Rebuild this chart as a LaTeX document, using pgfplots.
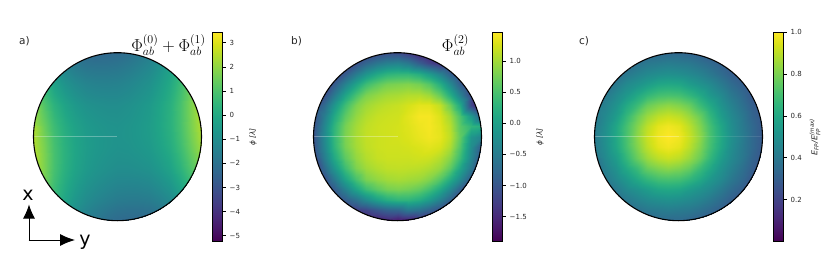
\documentclass[border=0pt]{standalone}
\usepackage{pgfplots}
\pgfplotsset{compat=1.18}
\usepackage{fontspec}
\setmainfont{DejaVu Sans}
\usetikzlibrary{arrows.meta}
\definecolor{tk}{RGB}{38,38,38}
\newcommand{\subfs}{\fontsize{5.6}{5.6}\selectfont}
\pgfplotsset{
  fieldax/.style={hide axis, scale only axis, width=168pt, height=168pt, xmin=0, xmax=16, ymin=0, ymax=16, enlargelimits=false, colormap/viridis, clip=false},
  fieldplot/.style={surf, shader=interp, mesh/cols=17, mesh/check=false, point meta=explicit},
  cbax/.style={scale only axis, axis on top, width=10.4pt, height=209pt, xmin=0, xmax=1, xtick=\empty, ytick pos=right, tick align=outside, colormap/viridis, enlargelimits=false, axis line style={black, line width=0.8pt}, major tick length=3pt, every tick/.style={black, line width=0.5pt}, yticklabel style={font=\fontsize{7}{8}\selectfont, text=tk, /pgf/number format/assume math mode=true, xshift=0.5pt}},
  cbplot/.style={surf, shader=interp, mesh/cols=2, point meta=y},
}
\begin{document}
\begin{tikzpicture}[x=1pt,y=1pt]
\path[use as bounding box] (0,0) rectangle (831,271);
% panel a
\begin{scope}
\clip (117.5,134.3) circle (84);
\begin{axis}[fieldax, at={(33.5pt,50.3pt)}, anchor=south west, point meta min=-5.23, point meta max=3.43]
\addplot[fieldplot] table[row sep=\\, header=false, x expr={mod(\coordindex,17)}, y expr={16-floor(\coordindex/17)}, meta index=0]{
-.15\\-.7\\-1.4\\-1.85\\-2.15\\-2.3\\-2.35\\-2.3\\-2.25\\-2.1\\-1.85\\-1.6\\-1.15\\-.65\\.1\\1.0\\1.85\\
.28\\-.32\\-1.01\\-1.5\\-1.79\\-1.98\\-2.02\\-2.01\\-1.95\\-1.79\\-1.58\\-1.32\\-.91\\-.4\\.3\\1.22\\2.02\\
.7\\.09\\-.61\\-1.12\\-1.43\\-1.63\\-1.69\\-1.69\\-1.65\\-1.51\\-1.31\\-1.07\\-.68\\-.18\\.51\\1.41\\2.2\\
1.08\\.45\\-.27\\-.79\\-1.11\\-1.33\\-1.41\\-1.43\\-1.4\\-1.27\\-1.09\\-.87\\-.49\\-.01\\.67\\1.55\\2.32\\
1.4\\.76\\.02\\-.51\\-.85\\-1.09\\-1.18\\-1.21\\-1.2\\-1.09\\-.92\\-.71\\-.35\\.11\\.78\\1.64\\2.4\\
1.73\\1.07\\.32\\-.23\\-.59\\-.84\\-.94\\-1\\-1\\-.9\\-.76\\-.56\\-.21\\.23\\.88\\1.73\\2.48\\
1.95\\1.28\\.51\\-.06\\-.43\\-.69\\-.81\\-.88\\-.9\\-.82\\-.69\\-.51\\-.17\\.26\\.89\\1.72\\2.45\\
2.15\\1.47\\.69\\.1\\-.28\\-.57\\-.7\\-.79\\-.82\\-.75\\-.64\\-.47\\-.16\\.26\\.87\\1.69\\2.4\\
2.3\\1.6\\.8\\.2\\-.2\\-.5\\-.65\\-.75\\-.8\\-.75\\-.65\\-.5\\-.2\\.2\\.8\\1.6\\2.3\\
2.4\\1.69\\.87\\.26\\-.16\\-.47\\-.64\\-.75\\-.82\\-.79\\-.7\\-.57\\-.28\\.1\\.69\\1.47\\2.15\\
2.45\\1.72\\.89\\.26\\-.17\\-.51\\-.69\\-.82\\-.9\\-.88\\-.81\\-.69\\-.43\\-.06\\.51\\1.28\\1.95\\
2.48\\1.73\\.88\\.23\\-.21\\-.56\\-.76\\-.9\\-1\\-1\\-.94\\-.84\\-.59\\-.23\\.32\\1.07\\1.73\\
2.4\\1.64\\.78\\.11\\-.35\\-.71\\-.92\\-1.09\\-1.2\\-1.21\\-1.18\\-1.09\\-.85\\-.51\\.02\\.76\\1.4\\
2.32\\1.55\\.67\\-.01\\-.49\\-.87\\-1.09\\-1.27\\-1.4\\-1.43\\-1.41\\-1.33\\-1.11\\-.79\\-.27\\.45\\1.08\\
2.2\\1.41\\.51\\-.18\\-.68\\-1.07\\-1.31\\-1.51\\-1.65\\-1.69\\-1.69\\-1.63\\-1.43\\-1.12\\-.61\\.09\\.7\\
2.02\\1.22\\.3\\-.4\\-.91\\-1.32\\-1.58\\-1.79\\-1.95\\-2.01\\-2.02\\-1.98\\-1.79\\-1.5\\-1.01\\-.32\\.28\\
1.85\\1.0\\.1\\-.65\\-1.15\\-1.6\\-1.85\\-2.1\\-2.25\\-2.3\\-2.35\\-2.3\\-2.15\\-1.85\\-1.4\\-.7\\-.15\\
};
\addplot[white, opacity=0.3, line width=0.6pt] coordinates {(0,8)(8,8)};
\end{axis}
\end{scope}
\draw[black, line width=1.1pt] (117.5,134.3) circle (84);
\begin{axis}[cbax, at={(212.3pt,29.7pt)}, anchor=south west, ymin=-5.23, ymax=3.43, point meta min=-5.23, point meta max=3.43, ytick={-5,-4,-3,-2,-1,0,1,2,3}, yticklabels={−5,−4,−3,−2,−1,0,1,2,3}]
\addplot[cbplot] coordinates {(0,-5.23)(1,-5.23)

(0,3.43)(1,3.43)};
\end{axis}
% panel b
\begin{scope}
\clip (397.5,134.3) circle (84);
\begin{axis}[fieldax, at={(313.5pt,50.3pt)}, anchor=south west, point meta min=-1.895, point meta max=1.46]
\addplot[fieldplot] table[row sep=\\, header=false, x expr={mod(\coordindex,17)}, y expr={16-floor(\coordindex/17)}, meta index=0]{
-1.6\\-1.6\\-1.6\\-1.51\\-1.42\\-1.23\\-1.15\\-1.07\\-1.1\\-1.3\\-1.6\\-1.7\\-1.75\\-1.7\\-1.6\\-1.6\\-1.6\\
-1.6\\-1.58\\-1.48\\-1.29\\-1.09\\-.8\\-.58\\-.45\\-.4\\-.55\\-.9\\-1.2\\-1.45\\-1.5\\-1.55\\-1.6\\-1.6\\
-1.6\\-1.48\\-1.25\\-.93\\-.5\\-.15\\.12\\.28\\.33\\.33\\.2\\-.05\\-.4\\-.85\\-1.25\\-1.5\\-1.7\\
-1.51\\-1.29\\-.93\\-.42\\.05\\.41\\.62\\.76\\.8\\.83\\.76\\.58\\.2\\-.3\\-.9\\-1.4\\-1.8\\
-1.42\\-1.09\\-.54\\.05\\.49\\.8\\.92\\1.0\\1.03\\1.08\\1.08\\.98\\.68\\.2\\-.42\\-1.2\\-1.85\\
-1.23\\-.75\\-.15\\.41\\.8\\.98\\1.08\\1.14\\1.18\\1.25\\1.33\\1.32\\1.15\\.73\\.12\\-1.2\\-1.85\\
-1.12\\-.5\\.12\\.62\\.92\\1.08\\1.17\\1.2\\1.22\\1.32\\1.42\\1.42\\1.28\\1.0\\.5\\-.1\\-.9\\
-1.03\\-.37\\.28\\.76\\1.0\\1.14\\1.2\\1.22\\1.24\\1.3\\1.38\\1.42\\1.32\\1.1\\.6\\.3\\.2\\
-1.0\\-.32\\.33\\.8\\1.03\\1.16\\1.2\\1.22\\1.24\\1.28\\1.35\\1.4\\1.34\\1.14\\.65\\-.15\\-.4\\
-1.03\\-.37\\.28\\.76\\1.0\\1.14\\1.2\\1.22\\1.22\\1.24\\1.28\\1.32\\1.26\\1.05\\.55\\-.25\\-.9\\
-1.12\\-.5\\.12\\.62\\.92\\1.08\\1.17\\1.2\\1.2\\1.2\\1.22\\1.2\\1.08\\.85\\.38\\-.35\\-1.1\\
-1.23\\-.75\\-.15\\.41\\.8\\.98\\1.08\\1.14\\1.15\\1.14\\1.12\\1.06\\.93\\.63\\.08\\-.55\\-1.25\\
-1.42\\-1.09\\-.54\\.05\\.49\\.8\\.92\\1.0\\1.03\\1.0\\.96\\.84\\.58\\.18\\-.3\\-.95\\-1.4\\
-1.51\\-1.29\\-.93\\-.42\\.05\\.41\\.62\\.76\\.8\\.76\\.66\\.46\\.12\\-.32\\-.85\\-1.25\\-1.5\\
-1.6\\-1.48\\-1.25\\-.93\\-.65\\-.32\\-.02\\.18\\.28\\.28\\.16\\-.08\\-.45\\-.85\\-1.2\\-1.45\\-1.6\\
-1.6\\-1.58\\-1.5\\-1.35\\-1.3\\-1.2\\-1.0\\-.85\\-.8\\-.55\\-.65\\-.85\\-1.1\\-1.3\\-1.45\\-1.55\\-1.6\\
-1.6\\-1.6\\-1.6\\-1.6\\-1.6\\-1.7\\-1.7\\-1.6\\-1.75\\-1.7\\-1.5\\-1.45\\-1.5\\-1.55\\-1.6\\-1.6\\-1.6\\
};
\addplot[white, opacity=0.3, line width=0.6pt] coordinates {(0,8)(8,8)};
\end{axis}
\end{scope}
\draw[black, line width=1.1pt] (397.5,134.3) circle (84);
\begin{axis}[cbax, at={(492.3pt,29.7pt)}, anchor=south west, ymin=-1.895, ymax=1.46, point meta min=-1.895, point meta max=1.46, ytick={-1.5,-1,-0.5,0,0.5,1}, yticklabels={−1.5,−1.0,−0.5,0.0,0.5,1.0}]
\addplot[cbplot] coordinates {(0,-1.895)(1,-1.895)

(0,1.46)(1,1.46)};
\end{axis}
% panel c
\begin{scope}
\clip (678.5,134.3) circle (84);
\begin{axis}[fieldax, at={(594.5pt,50.3pt)}, anchor=south west, point meta min=0, point meta max=1]
\addplot[fieldplot] table[row sep=\\, header=false, x expr={mod(\coordindex,17)}, y expr={16-floor(\coordindex/17)}, meta index=0]{
.20\\.22\\.25\\.27\\.30\\.32\\.34\\.34\\.34\\.32\\.30\\.27\\.25\\.22\\.20\\.17\\.15\\
.22\\.26\\.30\\.34\\.37\\.40\\.41\\.42\\.41\\.40\\.37\\.34\\.30\\.26\\.22\\.20\\.17\\
.26\\.30\\.35\\.40\\.44\\.47\\.49\\.50\\.49\\.47\\.44\\.40\\.35\\.30\\.26\\.22\\.19\\
.30\\.35\\.41\\.47\\.51\\.55\\.59\\.60\\.59\\.55\\.51\\.47\\.41\\.35\\.30\\.25\\.21\\
.34\\.40\\.47\\.53\\.60\\.66\\.70\\.71\\.70\\.66\\.60\\.53\\.47\\.40\\.34\\.27\\.23\\
.37\\.44\\.51\\.60\\.68\\.77\\.81\\.83\\.81\\.77\\.68\\.60\\.51\\.44\\.37\\.30\\.25\\
.40\\.47\\.55\\.66\\.77\\.85\\.90\\.92\\.90\\.85\\.77\\.66\\.55\\.47\\.40\\.32\\.26\\
.41\\.49\\.59\\.70\\.81\\.90\\.96\\.98\\.96\\.90\\.81\\.70\\.59\\.49\\.41\\.34\\.27\\
.42\\.50\\.60\\.71\\.83\\.92\\.98\\1.0\\.98\\.92\\.83\\.71\\.60\\.50\\.42\\.34\\.27\\
.41\\.49\\.59\\.70\\.81\\.90\\.96\\.98\\.96\\.90\\.81\\.70\\.59\\.49\\.41\\.34\\.27\\
.40\\.47\\.55\\.66\\.77\\.85\\.90\\.92\\.90\\.85\\.77\\.66\\.55\\.47\\.40\\.32\\.26\\
.37\\.44\\.51\\.60\\.68\\.77\\.81\\.83\\.81\\.77\\.68\\.60\\.51\\.44\\.37\\.30\\.25\\
.34\\.40\\.47\\.53\\.60\\.66\\.70\\.71\\.70\\.66\\.60\\.53\\.47\\.40\\.34\\.27\\.23\\
.30\\.35\\.41\\.47\\.51\\.55\\.59\\.60\\.59\\.55\\.51\\.47\\.41\\.35\\.30\\.25\\.21\\
.26\\.30\\.35\\.40\\.44\\.47\\.49\\.50\\.49\\.47\\.44\\.40\\.35\\.30\\.26\\.22\\.19\\
.22\\.26\\.30\\.34\\.37\\.40\\.41\\.42\\.41\\.40\\.37\\.34\\.30\\.26\\.22\\.20\\.17\\
.20\\.22\\.25\\.27\\.30\\.32\\.34\\.34\\.34\\.32\\.30\\.27\\.25\\.22\\.20\\.17\\.15\\
};
\addplot[white, opacity=0.3, line width=0.6pt] coordinates {(0,8)(8,8)};
\addplot[white, opacity=0.1, line width=0.6pt] coordinates {(8,8)(16,8)};
\end{axis}
\end{scope}
\draw[black, line width=1.1pt] (678.5,134.3) circle (84);
\begin{axis}[cbax, at={(773.3pt,29.7pt)}, anchor=south west, ymin=0, ymax=1, point meta min=0, point meta max=1, ytick={0.2,0.4,0.6,0.8,1}, yticklabels={0.2,0.4,0.6,0.8,1.0}]
\addplot[cbplot] coordinates {(0,0)(1,0)

(0,1)(1,1)};
\end{axis}
% texts
\node[font=\fontsize{10.5}{12}\selectfont, text=tk] at (24.5,230) {a)};
\node[font=\fontsize{10.5}{12}\selectfont, text=tk] at (296.5,230) {b)};
\node[font=\fontsize{10.5}{12}\selectfont, text=tk] at (584,230) {c)};
\node[font=\fontsize{16.6}{18}\selectfont] at (168.5,226) {$\Phi_{ab}^{(0)}+\Phi_{ab}^{(1)}$};
\node[font=\fontsize{16.6}{18}\selectfont] at (455.5,226) {$\Phi_{ab}^{(2)}$};
\node[rotate=90, font=\fontsize{7.3}{8}\selectfont\itshape, text=tk] at (253,134) {ϕ [λ]};
\node[rotate=90, font=\fontsize{7.3}{8}\selectfont\itshape, text=tk] at (540,134) {ϕ [λ]};
\node[rotate=90, font=\fontsize{8}{9}\selectfont\itshape, text=tk] at (815,134) {E$_{\hbox{\subfs FP}}$/E$_{\hbox{\subfs FP}}^{\hbox{\subfs (max)}}$};
% axes arrows
\draw[black, line width=1pt, -{Latex[length=14pt,width=12pt]}] (29,31) -- (29,66.5);
\draw[black, line width=1pt, -{Latex[length=15pt,width=12pt]}] (28.5,31) -- (75,31);
\node[font=\fontsize{19}{21}\selectfont] at (28,76) {x};
\node[font=\fontsize{19}{21}\selectfont] at (85,29) {y};
\end{tikzpicture}
\end{document}
